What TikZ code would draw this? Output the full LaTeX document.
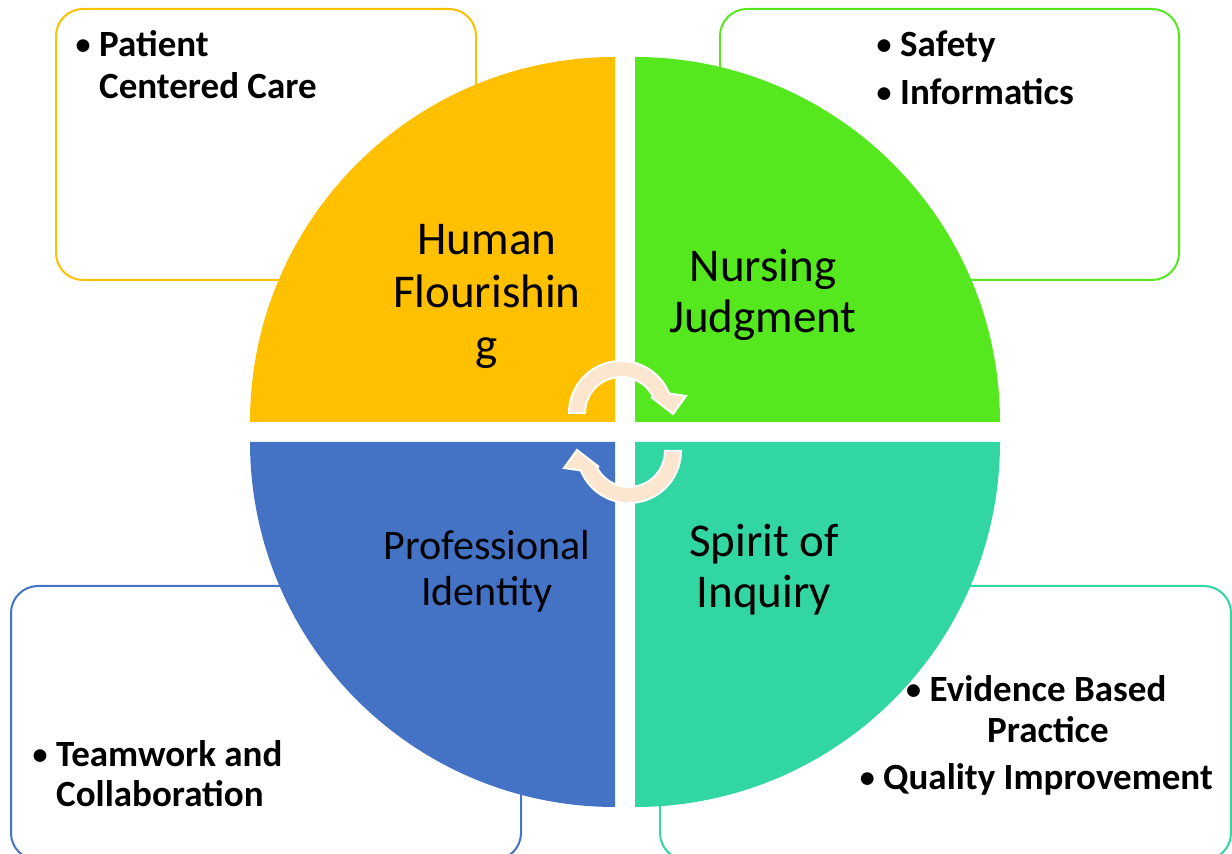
\documentclass[tikz,border=0pt]{standalone}
\usepackage{fontspec}
\setmainfont{Carlito}
\definecolor{hfyellow}{HTML}{FFC000}
\definecolor{njgreen}{HTML}{56E81E}
\definecolor{piblue}{HTML}{4472C4}
\definecolor{siteal}{HTML}{31D6A3}
\definecolor{turnfill}{HTML}{FDE6D0}
\newcommand{\bul}{\llap{\makebox[0pt][c]{\raisebox{2pt}{\fontsize{30}{30}\selectfont\textbullet}}\hspace{16pt}}}

\begin{document}
\begin{tikzpicture}
[x=1pt, y=1pt,
itembox/.style={draw, line width=2pt, fill=white, rounded corners=27pt},
quadlabel/.style={inner sep=0pt, anchor=base, font=\fontsize{47}{53}\selectfont},
bullets/.style={inner sep=0pt, anchor=base west, font=\fontsize{37}{42}\selectfont\bfseries},
turnarrow/.pic={\path[fill=turnfill, draw=white, line width=2pt]
  (180:52) arc[start angle=180, end angle=22, radius=52] -- (65,17) -- (52,-1)
  -- (30,16) -- (22:36) arc[start angle=22, end angle=180, radius=36] -- cycle;}]

\useasboundingbox (0,0) rectangle (1232,854);

\draw[itembox, draw=hfyellow] (56,574) rectangle (476,845);
\draw[itembox, draw=njgreen] (720,574) rectangle (1179,845);
\draw[itembox, draw=piblue] (11,-6) rectangle (521,268);
\draw[itembox, draw=siteal] (660,-6) rectangle (1231,268);

\fill[hfyellow] (615,432) -- (250,432) arc[start angle=180, end angle=90, radius=365] -- cycle;
\fill[njgreen] (635,432) -- (635,797) arc[start angle=90, end angle=0, radius=365] -- cycle;
\fill[piblue] (615,412) -- (615,47) arc[start angle=270, end angle=180, radius=365] -- cycle;
\fill[siteal] (635,412) -- (1000,412) arc[start angle=0, end angle=-90, radius=365] -- cycle;

\pic at (621,441) {turnarrow};
\pic[rotate=180] at (629,403) {turnarrow};

\node[quadlabel] (human) at (487,599) {\begin{tabular}[t]{@{}c@{}}Human\\Flourishin\\g\end{tabular}};
\node[quadlabel, font=\fontsize{47}{51}\selectfont] (nursing) at (763,572) {\begin{tabular}[t]{@{}c@{}}Nursing\\Judgment\end{tabular}};
\node[quadlabel, font=\fontsize{42}{46}\selectfont] (professional) at (487,294) {\begin{tabular}[t]{@{}c@{}}Professional\\Identity\end{tabular}};
\node[quadlabel, font=\fontsize{47}{51}\selectfont] (spirit) at (764,297) {\begin{tabular}[t]{@{}c@{}}Spirit of\\Inquiry\end{tabular}};

\node[bullets] (care) at (99,797) {\begin{tabular}[t]{@{}l@{}}\bul Patient\\ Centered Care\end{tabular}};
\node[bullets] (safety) at (900,797) {\begin{tabular}[t]{@{}l@{}}\bul Safety\\[6pt] \bul Informatics\end{tabular}};
\node[bullets] (teamwork) at (56,87) {\begin{tabular}[t]{@{}l@{}}\bul Teamwork and\\[-2pt] Collaboration\end{tabular}};
\node[bullets, anchor=base] (evidence) at (1048,152) {\begin{tabular}[t]{@{}c@{}}\bul Evidence Based\\[-1pt] Practice\\[5pt] \bul Quality Improvement\end{tabular}};
\end{tikzpicture}
\end{document}
